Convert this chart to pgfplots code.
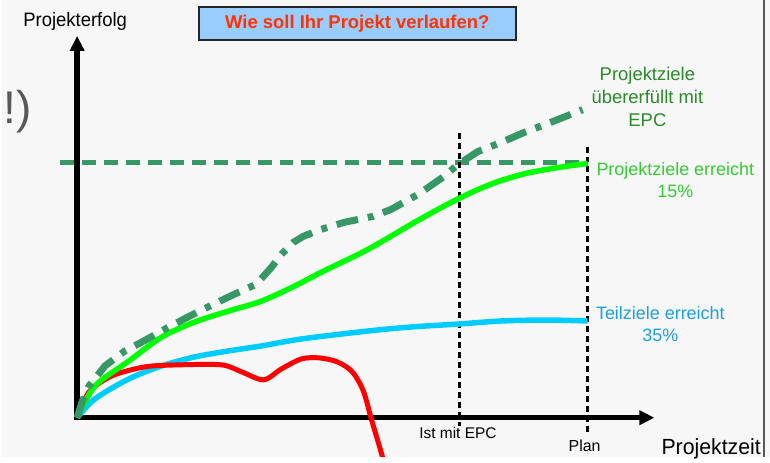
\documentclass[border=0pt]{standalone}
\usepackage{pgfplots}
\pgfplotsset{compat=1.18}
\usepackage{fontspec}
\setmainfont{Liberation Sans}
\usetikzlibrary{arrows.meta}
\definecolor{bg}{HTML}{F7F7F7}
\definecolor{dgreen}{HTML}{379866}
\definecolor{bgreen}{HTML}{00FF00}
\definecolor{cyanl}{HTML}{00CCFF}
\definecolor{lab1}{HTML}{2A8A2A}
\definecolor{lab2}{HTML}{33CC33}
\definecolor{lab3}{HTML}{1E9FE0}
\definecolor{titlered}{HTML}{FF3300}
\definecolor{titlebox}{HTML}{99CCFF}
\begin{document}
\begin{tikzpicture}
\begin{axis}[
  width=770pt, height=458pt, scale only axis,
  xmin=0, xmax=770, ymin=0, ymax=458, y dir=reverse,
  hide axis, clip mode=individual,
]
\fill[bg] (rel axis cs:0,0) rectangle (rel axis cs:1,1);
% right border
\addplot[gray!70!black, line width=1.5pt] coordinates {(764,0) (764,458)};
% guide lines
\addplot[dgreen, line width=4.5pt, dash pattern=on 14pt off 8pt] coordinates {(58,163) (587,163)};
\addplot[black, line width=3pt, dash pattern=on 6pt off 4pt] coordinates {(459,133) (459,427)};
\addplot[black, line width=3pt, dash pattern=on 6pt off 4pt] coordinates {(587,147) (587,434)};
% axes
\addplot[black, line width=5.5pt, -{Triangle[length=15pt,width=14pt]}] coordinates {(75,421) (75,36)};
\addplot[black, line width=5.5pt, -{Triangle[length=15pt,width=14pt]}] coordinates {(73,419) (654,419)};
% cyan
\addplot[cyanl, line width=5.5pt, smooth] coordinates {
(75,419) (93,400) (127,380) (160,367) (193,358) (227,352) (260,347) (300,340) (367,332) (410,328) (458,325) (500,322) (545,321) (587,322)};
% red
\addplot[red, line width=5pt, smooth] coordinates {
(75,419) (87,393) (110,377) (143,368) (177,366) (220,366) (240,373) (262,381) (280,370) (300,360) (318,359) (336,363) (351,373) (362,392) (370,420) (378,447) (386,475)};
% bright green
\addplot[bgreen, line width=5.5pt, smooth] coordinates {
(75,419) (93,387) (127,362) (160,338) (193,323) (227,312) (260,302) (293,287) (320,273) (367,250) (417,221) (458,199) (492,184) (525,174) (558,168) (587,164)};
% dash dot
\addplot[dgreen, line width=7pt, dash pattern=on 22pt off 10pt on 6pt off 10pt] coordinates {
(75,419) (80,403) (87,387) (103,367) (123,352) (142,342) (167,328) (188,317) (210,306) (233,295) (255,285) (262,277) (270,268) (280,255) (292,243) (302,237) (320,230) (343,223) (372,217) (390,210) (417,195) (443,177) (457,165) (477,152) (500,143) (523,133) (547,124) (582,110)};
% title
\node[draw=black!85, line width=1.5pt, fill=titlebox, minimum width=318pt, minimum height=33pt, inner sep=0pt,
  font=\bfseries\fontsize{18.5}{20}\selectfont, text=titlered] at (axis cs:356,23.5) {Wie soll Ihr Projekt verlaufen?};
% texts
\node[font=\fontsize{19.5}{22}\selectfont, xscale=0.95] at (axis cs:73,22) {Projekterfolg};
\node[font=\fontsize{22}{24}\selectfont, xscale=0.97] at (axis cs:711,450) {Projektzeit};
\node[font=\fontsize{15.5}{17}\selectfont] at (axis cs:457,434) {Ist mit EPC};
\node[font=\fontsize{16}{18}\selectfont] at (axis cs:584,447) {Plan};
\node[font=\fontsize{46}{50}\selectfont, text=black!65] at (axis cs:15,112) {!)};
\node[font=\fontsize{18.5}{23}\selectfont, text=lab1, align=center] at (axis cs:647,97) {Projektziele\\übererfüllt mit\\EPC};
\node[font=\fontsize{18}{22}\selectfont, text=lab2, align=center] at (axis cs:675,181) {Projektziele erreicht\\15\%};
\node[font=\fontsize{18}{22}\selectfont, text=lab3, align=center] at (axis cs:660,325) {Teilziele erreicht\\35\%};
\end{axis}
\end{tikzpicture}
\end{document}
